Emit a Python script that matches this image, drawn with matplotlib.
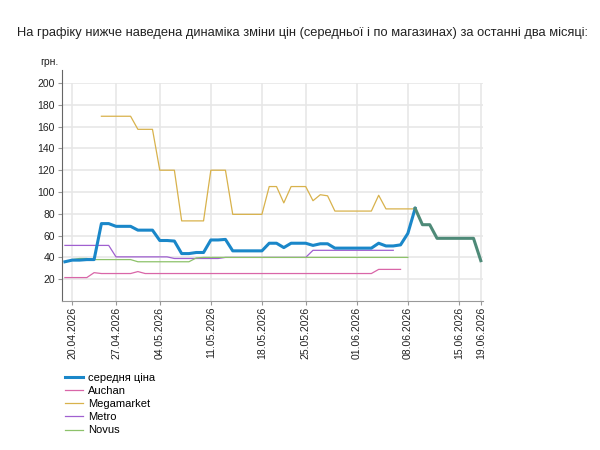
import numpy as np
import pandas as pd
import matplotlib
matplotlib.use('Agg')
import matplotlib.pyplot as plt

plt.rcParams['font.family'] = ['Liberation Sans', 'DejaVu Sans']

# dates (a few days are missing in the source series)
all_days = pd.date_range('2026-04-19', '2026-06-19', freq='D')
missing = pd.to_datetime(['2026-04-25', '2026-05-02', '2026-05-23', '2026-06-17'])
dates = [d.strftime('%d.%m.%Y') for d in all_days if d not in missing]

tick_labels = ['20.04.2026', '27.04.2026', '04.05.2026', '11.05.2026', '18.05.2026',
               '25.05.2026', '01.06.2026', '08.06.2026', '15.06.2026', '19.06.2026']

N = None
avg = [36, 37.5, 37.5, 38, 38, 71, 71, 68.5, 68.5, 68.5,
       65, 65, 65, 55.5, 55.5, 55, 43.5, 43.5, 44.5, 44.5,
       56, 56, 56.5, 46, 46, 46, 46, 46, 53, 53,
       49, 53, 53, 53, 51, 52.5, 52.5, 48.5, 48.5, 48.5,
       48.5, 48.5, 48.5, 53, 50.5, 50.5, 51.5, 62, 85, 70,
       70, 57.5, 57.5, 57.5, 57.5, 57.5, 57.5, 37]
auchan = [21.5, 21.5, 21.5, 21.5, 26, 25.2, 25.2, 25.2, 25.2, 25.2,
          27, 25.2, 25.2, 25.2, 25.2, 25.2, 25.2, 25.2, 25.2, 25.2,
          25.2, 25.2, 25.2, 25.2, 25.2, 25.2, 25.2, 25.2, 25.2, 25.2,
          25.2, 25.2, 25.2, 25.2, 25.2, 25.2, 25.2, 25.2, 25.2, 25.2,
          25.2, 25.2, 25.2, 29, 29, 29, 29, N, N, N,
          N, N, N, N, N, N, N, N]
megamarket = [N, N, N, N, N, 169.5, 169.5, 169.5, 169.5, 169.5,
              157.5, 157.5, 157.5, 120, 120, 120, 73.5, 73.5, 73.5, 73.5,
              120, 120, 120, 79.5, 79.5, 79.5, 79.5, 79.5, 105, 105,
              90, 105, 105, 105, 92, 97.5, 96.5, 82.5, 82.5, 82.5,
              82.5, 82.5, 82.5, 97, 84.5, 84.5, 84.5, 84.5, 84.5, N,
              N, N, N, N, N, N, N, N]
metro = [51, 51, 51, 51, 51, 51, 51, 40.5, 40.5, 40.5,
         40.5, 40.5, 40.5, 40.5, 40.5, 39, 39, 39, 39, 39,
         39, 39, 40, 40, 40, 40, 40, 40, 40, 40,
         40, 40, 40, 40, 46.5, 46.5, 46.5, 46.5, 46.5, 46.5,
         46.5, 46.5, 46.5, 46.5, 46.5, 46.5, N, N, N, N,
         N, N, N, N, N, N, N, N]
novus = [35.5, 38, 39, 39, 38, 38, 38, 38, 38, 38,
         36, 36, 36, 36, 36, 36, 36, 36, 39.5, 40,
         40, 40, 40, 40, 40, 40, 40, 40, 40, 40,
         40, 40, 40, 40, 40, 40, 40, 40, 40, 40,
         40, 40, 40, 40, 40, 40, 40, 40, N, N,
         N, N, N, N, N, N, N, N]

x = np.arange(len(dates))
def arr(v):
    return np.array([np.nan if a is None else a for a in v], dtype=float)

fig = plt.figure(figsize=(6, 4.5), dpi=100)
ax = fig.add_axes([62/600, 1-301/450, (483-62)/600, (301-83)/450])

grid_c = '#e6e6e6'
ax.plot(x, arr(auchan), color='#d966a8', lw=0.9, label='Auchan', zorder=3)
ax.plot(x, arr(megamarket), color='#d8b24c', lw=0.9, label='Megamarket', zorder=3)
ax.plot(x, arr(metro), color='#a060d0', lw=0.9, label='Metro', zorder=3)
ax.plot(x, arr(novus), color='#8dc26a', lw=0.9, label='Novus', zorder=3)
avg_a = arr(avg)
peak = int(np.nanargmax(avg_a))
ax.plot(x[:peak + 1], avg_a[:peak + 1], color='#1a87c9', lw=2.2, label='середня ціна', zorder=4)
ax.plot(x[peak:], avg_a[peak:], color='#4e8a78', lw=2.2, zorder=4)

ax.set_ylim(0, 200)
ax.set_xlim(-0.4, len(dates) - 1 + 0.3)
ax.set_yticks(np.arange(20, 201, 20))
tick_pos = [dates.index(t) for t in tick_labels]
ax.set_xticks(tick_pos)
ax.set_xticklabels(tick_labels, rotation=90)
ax.tick_params(axis='both', labelsize=7.5, colors='#222222', length=3, width=0.8)
ax.tick_params(axis='x', color='#999999', pad=1)
ax.tick_params(axis='y', color='#999999', pad=2)
ax.grid(True, color=grid_c, lw=1.1)
ax.set_axisbelow(True)
for s in ['top', 'right']:
    ax.spines[s].set_visible(False)
ax.spines['left'].set_color('#666666')
ax.spines['bottom'].set_color('#999999')
ax.spines['left'].set_bounds(0, 212)

fig.text(17/600, 1-33/450, 'На графіку нижче наведена динаміка зміни цін (середньої і по магазинах) за останні два місяці:',
         fontsize=9.3, va='center', color='#222222')
fig.text(40/600, 1-62/450, 'грн.', fontsize=7.5, va='center', color='#222222')

h, l = ax.get_legend_handles_labels()
order = [4, 0, 1, 2, 3]
fig.legend([h[i] for i in order], [l[i] for i in order], loc='upper left',
           bbox_to_anchor=(65/600, 1-373/450), frameon=False, fontsize=8,
           handlelength=1.6, handletextpad=0.5, labelspacing=0.28, borderpad=0, borderaxespad=0)

fig.savefig('out.png', dpi=100)
